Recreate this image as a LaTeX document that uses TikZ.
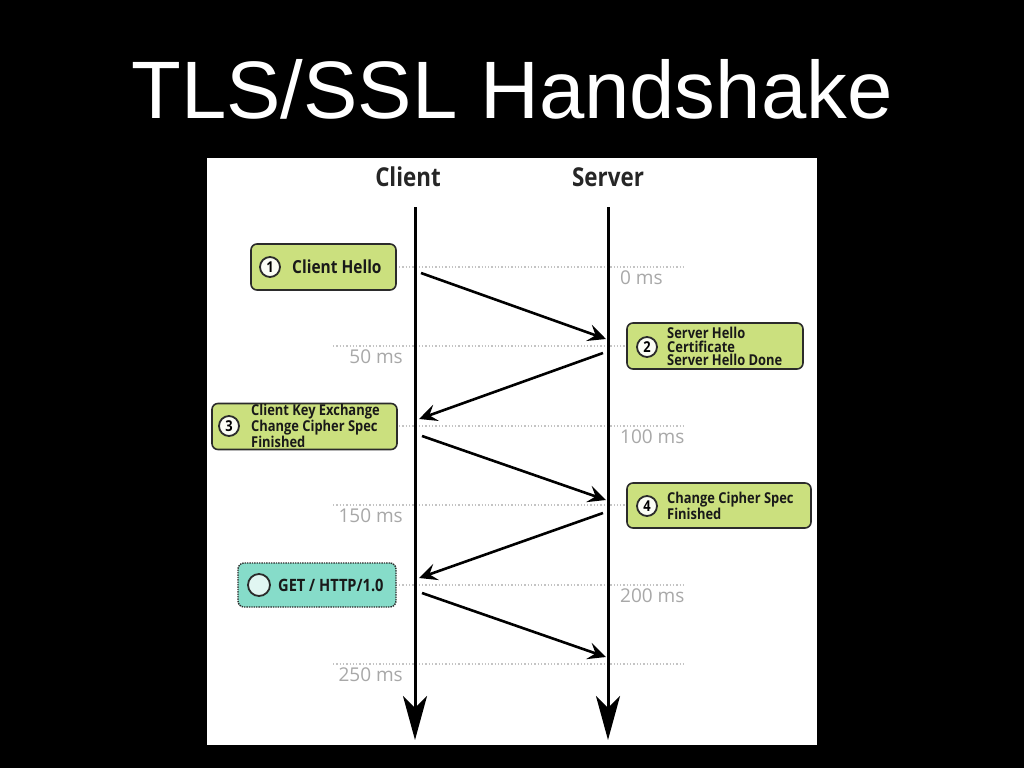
\documentclass[tikz,border=0pt]{standalone}
\usepackage{fontspec}
\setmainfont{Open Sans}
\newfontfamily\titlefont{Liberation Sans}
\newfontfamily\df[FakeStretch=0.86]{Open Sans}
\newfontfamily\tf{Open Sans}
\usetikzlibrary{arrows.meta}
\definecolor{boxgreen}{HTML}{CBE07E}
\definecolor{boxteal}{HTML}{86DCC9}
\definecolor{edge}{HTML}{2B2B2B}
\definecolor{tick}{HTML}{C4C4C4}
\definecolor{ticktext}{HTML}{A8A8A8}
\tikzset{
  lifeline/.style={line width=3pt, -{Stealth[length=44pt,width=24pt,inset=12pt]}},
  msg/.style={line width=2.6pt, -{Stealth[length=18pt,width=17pt,inset=7pt]}},
  tickline/.style={tick, dotted, line width=1.3pt},
  ticklabel/.style={text=ticktext, font=\tf\fontsize{19}{19}\selectfont, inner sep=0pt},
  stepbox/.style={draw=edge, line width=1.6pt, fill=boxgreen, rounded corners=6pt, inner sep=0pt},
  getbox/.style={draw=edge, line width=1.4pt, densely dotted, fill=boxteal, rounded corners=6pt, inner sep=0pt},
  num/.style={circle, draw=edge, line width=1.8pt, fill=white!92!boxgreen, minimum size=20pt, inner sep=0pt, font=\df\bfseries\fontsize{15}{15}\selectfont},
  boxtext/.style={anchor=west, align=left, inner sep=0pt, text=black!90, font=\df\bfseries\fontsize{15}{13.6}\selectfont},
  head/.style={font=\df\bfseries\fontsize{26}{26}\selectfont, inner sep=0pt, text=black!85}
}
\begin{document}
\begin{tikzpicture}[x=1pt,y=-1pt]
\fill[black] (0,0) rectangle (1024,768);
\useasboundingbox (0,0) rectangle (1024,768);
\node[text=white, font=\titlefont\fontsize{81.5}{81.5}\selectfont, anchor=base, inner sep=0pt] (title) at (512,118) {TLS/SSL Handshake};
\fill[white] (207,158) rectangle (817,745);
% headers
\node[head] (client) at (408,177) {Client};
\node[head] (server) at (608,177) {Server};
% time ticks
\foreach \y/\n in {267/t0,346/t1,426/t2,505/t3,585/t4,664/t5}{
  \coordinate (\n a) at (333,\y);
  \coordinate (\n b) at (683,\y);
  \draw[tickline] (\n a) -- (\n b);
}
\node[ticklabel, anchor=west] (ms0) at (620,278) {0 ms};
\node[ticklabel, anchor=east] (ms50) at (403,357) {50 ms};
\node[ticklabel, anchor=west] (ms100) at (620,437) {100 ms};
\node[ticklabel, anchor=east] (ms150) at (403,516) {150 ms};
\node[ticklabel, anchor=west] (ms200) at (620,596) {200 ms};
\node[ticklabel, anchor=east] (ms250) at (403,675) {250 ms};
% lifelines
\coordinate (cTop) at (415,207);
\coordinate (cBot) at (415,740);
\coordinate (sTop) at (608,207);
\coordinate (sBot) at (608,740);
\draw[lifeline] (cTop) -- (cBot);
\draw[lifeline] (sTop) -- (sBot);
% message endpoints
\coordinate (m1s) at (421,273); \coordinate (m1e) at (606,339);
\coordinate (m2s) at (603,353); \coordinate (m2e) at (419,419);
\coordinate (m3s) at (422,436); \coordinate (m3e) at (606,500);
\coordinate (m4s) at (603,513); \coordinate (m4e) at (419,578);
\coordinate (m5s) at (422,593); \coordinate (m5e) at (606,657);
\draw[msg] (m1s) -- (m1e);
\draw[msg] (m2s) -- (m2e);
\draw[msg] (m3s) -- (m3e);
\draw[msg] (m4s) -- (m4e);
\draw[msg] (m5s) -- (m5e);
% boxes
\node[stepbox, minimum width=145pt, minimum height=46pt] (b1) at (323.5,267) {};
\node[num] (n1) at (270,267) {1};
\node[boxtext, font=\df\bfseries\fontsize{18}{18}\selectfont] (l1) at (292,267) {Client Hello};

\node[stepbox, minimum width=176pt, minimum height=46pt] (b2) at (715,346) {};
\node[num] (n2) at (647,347) {2};
\node[boxtext] (l2) at (667,346.5) {Server Hello\\Certificate\\Server Hello Done};

\node[stepbox, minimum width=185pt, minimum height=46pt] (b3) at (304.5,426.5) {};
\node[num] (n3) at (229,426) {3};
\node[boxtext] (l3) at (251,426) {Client Key Exchange\\Change Cipher Spec\\Finished};

\node[stepbox, minimum width=184pt, minimum height=45pt] (b4) at (719,505.5) {};
\node[num] (n4) at (647,506) {4};
\node[boxtext] (l4) at (667,505.5) {Change Cipher Spec\\Finished};

\node[getbox, minimum width=158pt, minimum height=44pt] (b5) at (317,585) {};
\node[num, fill=boxteal!25!white, minimum size=22pt] (n5) at (259,585) {};
\node[boxtext, font=\df\bfseries\fontsize{17}{17}\selectfont] (l5) at (278,585) {GET / HTTP/1.0};
\end{tikzpicture}
\end{document}
